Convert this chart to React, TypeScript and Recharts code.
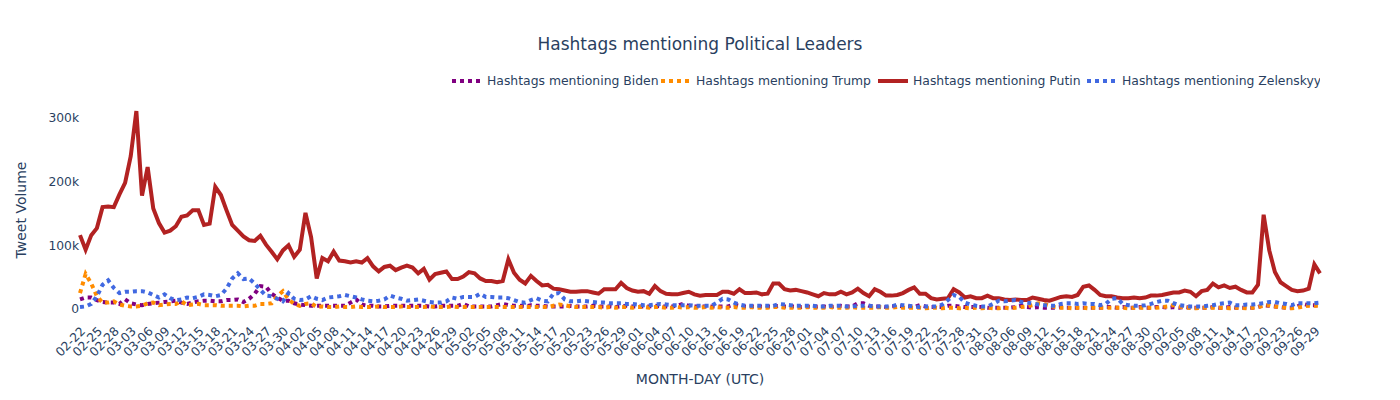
import { LineChart, Line, XAxis, YAxis } from 'recharts'

// one point per day, 2022-02-22 .. 2022-09-30
const START = Date.UTC(2022, 1, 22)
const dayLabels = Array.from({ length: 221 }, (_, i) => {
  const d = new Date(START + i * 86400000)
  return `${String(d.getUTCMonth() + 1).padStart(2, '0')}-${String(d.getUTCDate()).padStart(2, '0')}`
})

// tweet volume, thousands
const bidenK = [
  15, 18, 18, 14, 11, 10, 10, 8, 15, 9,
  7, 6, 8, 9, 10, 11, 12, 13, 10, 8,
  10, 12, 13, 13, 12, 12, 14, 14, 15, 11,
  16, 24, 36, 35, 24, 18, 13, 13, 9, 7,
  6, 5, 5, 5, 5, 5, 5, 5, 10, 15,
  7, 5, 5, 4, 4, 5, 5, 5, 5, 5,
  5, 5, 4, 4, 5, 5, 5, 5, 8, 4,
  4, 4, 4, 4, 6, 8, 6, 5, 5, 4,
  6, 5, 5, 4, 4, 4, 4, 5, 4, 4,
  4, 5, 4, 4, 4, 3, 4, 5, 4, 4,
  4, 4, 5, 4, 4, 4, 5, 8, 5, 4,
  4, 4, 4, 4, 4, 4, 7, 5, 4, 4,
  4, 4, 4, 4, 5, 4, 4, 4, 3, 4,
  3, 4, 4, 3, 4, 5, 4, 4, 9, 9,
  5, 4, 4, 3, 4, 5, 4, 4, 3, 6,
  4, 3, 3, 3, 5, 5, 4, 3, 3, 3,
  3, 2, 2, 2, 2, 2, 3, 5, 3, 2,
  3, 2, 2, 2, 3, 2, 2, 2, 2, 2,
  2, 2, 3, 3, 2, 3, 2, 2, 3, 2,
  2, 3, 3, 2, 3, 2, 3, 2, 2, 2,
  2, 3, 2, 2, 3, 2, 2, 2, 2, 3,
  6, 5, 4, 3, 2, 2, 4, 8, 6, 6,
  5,
]

const trumpK = [
  25, 55, 40, 20, 10, 10, 12, 7, 5, 4,
  4, 5, 9, 10, 6, 7, 8, 8, 12, 6,
  7, 8, 6, 6, 6, 5, 5, 5, 5, 4,
  5, 5, 8, 8, 9, 20, 28, 15, 8, 5,
  8, 9, 3, 4, 3, 3, 4, 3, 3, 4,
  3, 3, 3, 4, 3, 3, 3, 4, 3, 3,
  3, 3, 4, 3, 3, 3, 4, 3, 3, 3,
  3, 3, 3, 3, 3, 3, 3, 3, 3, 3,
  3, 3, 3, 3, 5, 7, 6, 4, 3, 3,
  3, 3, 3, 2, 3, 2, 3, 3, 2, 3,
  3, 2, 3, 3, 2, 2, 3, 2, 3, 2,
  2, 3, 2, 3, 2, 2, 3, 2, 2, 3,
  2, 2, 2, 3, 3, 2, 2, 2, 2, 3,
  2, 2, 2, 3, 2, 2, 2, 3, 2, 2,
  2, 2, 3, 2, 2, 3, 2, 2, 2, 2,
  1, 2, 2, 1, 2, 2, 1, 2, 1, 2,
  1, 2, 1, 1, 2, 1, 2, 3, 4, 6,
  9, 8, 5, 3, 2, 2, 1, 2, 2, 1,
  2, 2, 2, 2, 2, 2, 1, 2, 2, 2,
  2, 2, 3, 4, 6, 4, 2, 2, 1, 2,
  2, 2, 2, 2, 1, 2, 2, 1, 2, 3,
  5, 6, 4, 3, 2, 1, 2, 4, 5, 5,
  5,
]

const putinK = [
  116, 93, 116, 127, 160, 161, 160, 180, 198, 240,
  311, 178, 223, 158, 135, 120, 123, 130, 145, 147,
  155, 155, 132, 134, 192, 179, 155, 132, 123, 114,
  108, 107, 115, 101, 90, 78, 92, 100, 82, 93,
  151, 113, 48, 80, 75, 90, 76, 75, 73, 75,
  73, 80, 67, 59, 66, 68, 61, 65, 68, 65,
  56, 63, 46, 55, 57, 59, 47, 47, 51, 58,
  56, 48, 44, 44, 42, 44, 78, 57, 46, 40,
  52, 44, 37, 38, 32, 31, 29, 27, 27, 28,
  28, 26, 24, 31, 31, 31, 41, 33, 29, 27,
  28, 24, 36, 28, 24, 23, 23, 25, 27, 23,
  21, 22, 22, 22, 27, 27, 24, 31, 25, 25,
  26, 23, 24, 40, 40, 31, 29, 30, 28, 26,
  23, 20, 25, 23, 23, 27, 23, 26, 32, 25,
  20, 31, 27, 21, 21, 22, 25, 30, 34, 24,
  24, 17, 15, 16, 17, 31, 26, 18, 20, 17,
  17, 21, 17, 17, 15, 14, 15, 14, 14, 18,
  16, 14, 13, 16, 19, 20, 19, 22, 35, 37,
  30, 22, 20, 20, 18, 17, 17, 18, 17, 18,
  21, 21, 22, 24, 26, 26, 29, 27, 20, 28,
  30, 40, 34, 37, 33, 35, 30, 26, 26, 38,
  148, 92, 58, 42, 36, 30, 28, 29, 32, 70,
  56,
]

const zelenskyyK = [
  3, 4, 8, 20, 38, 45, 33, 25, 27, 27,
  28, 28, 26, 22, 18, 23, 17, 14, 15, 18,
  17, 19, 23, 22, 20, 22, 32, 48, 56, 47,
  48, 40, 30, 21, 20, 16, 12, 25, 16, 14,
  15, 20, 16, 14, 18, 19, 20, 22, 20, 18,
  15, 13, 12, 13, 15, 21, 18, 16, 13, 14,
  15, 13, 11, 10, 10, 12, 18, 16, 19, 19,
  19, 24, 19, 19, 18, 18, 17, 14, 11, 10,
  14, 17, 13, 12, 24, 25, 15, 12, 12, 13,
  12, 11, 10, 10, 9, 9, 9, 8, 8, 7,
  6, 6, 7, 8, 7, 6, 6, 6, 6, 5,
  5, 5, 5, 10, 16, 15, 10, 7, 5, 5,
  5, 5, 5, 5, 8, 7, 6, 5, 5, 5,
  5, 4, 4, 5, 5, 5, 4, 4, 5, 5,
  5, 4, 4, 4, 4, 7, 6, 5, 4, 3,
  4, 4, 4, 7, 14, 22, 19, 10, 7, 5,
  4, 4, 8, 13, 12, 13, 14, 11, 10, 9,
  7, 6, 5, 5, 8, 9, 9, 8, 9, 8,
  8, 6, 8, 16, 17, 8, 6, 5, 5, 6,
  8, 11, 13, 13, 9, 6, 5, 4, 4, 4,
  5, 6, 8, 9, 10, 6, 6, 7, 7, 8,
  9, 11, 11, 9, 8, 6, 9, 9, 9, 9,
  10,
]

const yTicks = [0, 100, 200, 300]

const seriesNames = {
  biden: 'Hashtags mentioning Biden',
  trump: 'Hashtags mentioning Trump',
  putin: 'Hashtags mentioning Putin',
  zelenskyy: 'Hashtags mentioning Zelenskyy',
}

const rows = dayLabels.map((day, i) => ({
  day,
  biden: bidenK[i],
  trump: trumpK[i],
  putin: putinK[i],
  zelenskyy: zelenskyyK[i],
}))

const FONT = '"DejaVu Sans", Verdana, sans-serif'
const INK = '#2a3f5f'

const COLORS = {
  biden: '#800080',
  trump: '#ff8c00',
  putin: '#b22222',
  zelenskyy: '#4169e1',
}

function DayTick({ x, y, payload }: any) {
  return (
    <text
      transform={`translate(${x + 3},${y + 9}) rotate(-45)`}
      textAnchor="end"
      dy="0.35em"
      fill={INK}
      fontSize={12.3}
      fontFamily={FONT}
    >
      {payload.value}
    </text>
  )
}

const legendItems: { key: keyof typeof COLORS; x: number; dashed: boolean }[] = [
  { key: 'biden', x: 452, dashed: true },
  { key: 'trump', x: 661, dashed: true },
  { key: 'putin', x: 878, dashed: false },
  { key: 'zelenskyy', x: 1087, dashed: true },
]

export default function App() {
  return (
    <div style={{ position: 'absolute', left: 0, top: 0, width: 1400, height: 400, background: '#fff' }}>
      <LineChart width={1400} height={400} data={rows} margin={{ top: 100, right: 80, bottom: 0, left: 0 }}>
        <XAxis
          dataKey="day"
          height={80}
          interval={2}
          axisLine={false}
          tickLine={false}
          tickSize={0}
          tickMargin={0}
          tick={(p: any) => <DayTick {...p} />}
        />
        <YAxis
          width={80}
          type="number"
          domain={[-17.3, 328.3]}
          ticks={yTicks}
          allowDataOverflow
          axisLine={false}
          tickLine={false}
          tickSize={0}
          tickMargin={1}
          tickFormatter={(v: number) => (v === 0 ? '0' : `${v}k`)}
          tick={{ fill: INK, fontSize: 12.3, fontFamily: FONT }}
        />
        <Line dataKey="biden" name={seriesNames.biden} stroke={COLORS.biden} strokeWidth={4} strokeDasharray="4 4" dot={false} activeDot={false} isAnimationActive={false} />
        <Line dataKey="trump" name={seriesNames.trump} stroke={COLORS.trump} strokeWidth={4} strokeDasharray="4 4" dot={false} activeDot={false} isAnimationActive={false} />
        <Line dataKey="putin" name={seriesNames.putin} stroke={COLORS.putin} strokeWidth={4} dot={false} activeDot={false} isAnimationActive={false} />
        <Line dataKey="zelenskyy" name={seriesNames.zelenskyy} stroke={COLORS.zelenskyy} strokeWidth={4} strokeDasharray="4 4" dot={false} activeDot={false} isAnimationActive={false} />
      </LineChart>

      <svg width={1400} height={400} style={{ position: 'absolute', left: 0, top: 0, pointerEvents: 'none' }} fontFamily={FONT}>
        <defs>
          <clipPath id="legendClip">
            <rect x={440} y={60} width={880} height={40} />
          </clipPath>
        </defs>
        <text x={700} y={50} textAnchor="middle" fontSize={17} fill={INK}>
          Hashtags mentioning Political Leaders
        </text>
        <text transform="translate(26,210) rotate(-90)" textAnchor="middle" fontSize={14} fill={INK}>
          Tweet Volume
        </text>
        <text x={700} y={384} textAnchor="middle" fontSize={14} fill={INK}>
          MONTH-DAY (UTC)
        </text>
        <g clipPath="url(#legendClip)">
          {legendItems.map((it) => (
            <g key={it.key}>
              <line
                x1={it.x}
                x2={it.x + 30}
                y1={81}
                y2={81}
                stroke={COLORS[it.key]}
                strokeWidth={4}
                strokeDasharray={it.dashed ? '4 4' : undefined}
              />
              <text x={it.x + 35} y={81} dy="0.35em" fontSize={12.4} fill={INK}>
                {seriesNames[it.key]}
              </text>
            </g>
          ))}
        </g>
      </svg>
    </div>
  )
}
